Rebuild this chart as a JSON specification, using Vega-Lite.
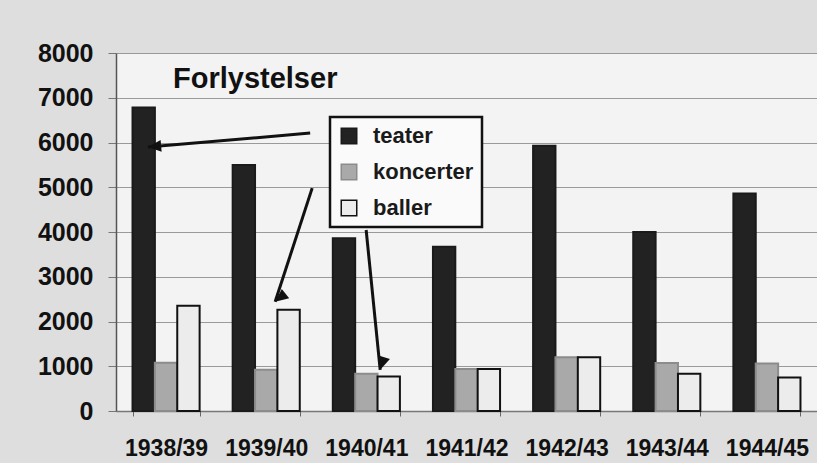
{
  "$schema": "https://vega.github.io/schema/vega-lite/v6.json",
  "width": 701,
  "height": 358,
  "autosize": {"type": "none"},
  "padding": {"left": 116, "top": 53, "right": 0, "bottom": 52},
  "background": "#dedede",
  "config": {
    "view": {"fill": "#f3f3f3", "stroke": null},
    "font": "Liberation Sans"
  },
  "title": {
    "text": "Forlystelser",
    "anchor": "start",
    "frame": "group",
    "orient": "top",
    "offset": 0,
    "baseline": "alphabetic",
    "dx": 57,
    "dy": 76,
    "font": "Liberation Sans",
    "fontSize": 29,
    "fontWeight": "bold",
    "color": "#111111"
  },
  "datasets": {
    "bars": [
      {"season": "1938/39", "series": "teater", "value": 6780},
      {"season": "1938/39", "series": "koncerter", "value": 1080},
      {"season": "1938/39", "series": "baller", "value": 2350},
      {"season": "1939/40", "series": "teater", "value": 5500},
      {"season": "1939/40", "series": "koncerter", "value": 920},
      {"season": "1939/40", "series": "baller", "value": 2260},
      {"season": "1940/41", "series": "teater", "value": 3860},
      {"season": "1940/41", "series": "koncerter", "value": 830},
      {"season": "1940/41", "series": "baller", "value": 770},
      {"season": "1941/42", "series": "teater", "value": 3670},
      {"season": "1941/42", "series": "koncerter", "value": 940},
      {"season": "1941/42", "series": "baller", "value": 940},
      {"season": "1942/43", "series": "teater", "value": 5930},
      {"season": "1942/43", "series": "koncerter", "value": 1200},
      {"season": "1942/43", "series": "baller", "value": 1200},
      {"season": "1943/44", "series": "teater", "value": 4000},
      {"season": "1943/44", "series": "koncerter", "value": 1070},
      {"season": "1943/44", "series": "baller", "value": 830},
      {"season": "1944/45", "series": "teater", "value": 4860},
      {"season": "1944/45", "series": "koncerter", "value": 1060},
      {"season": "1944/45", "series": "baller", "value": 750}
    ],
    "arrows": [
      {"arrow": "a1", "end": "start", "season": "1939/40", "pos": 1.155, "value": 6210},
      {"arrow": "a1", "end": "tip", "season": "1938/39", "pos": 0.23, "value": 5900},
      {"arrow": "a2", "end": "start", "season": "1939/40", "pos": 1.185, "value": 4980},
      {"arrow": "a2", "end": "tip", "season": "1939/40", "pos": 0.633, "value": 2440},
      {"arrow": "a3", "end": "start", "season": "1940/41", "pos": 0.497, "value": 4045},
      {"arrow": "a3", "end": "tip", "season": "1940/41", "pos": 0.706, "value": 920}
    ]
  },
  "resolve": {"scale": {"xOffset": "independent"}},
  "layer": [
    {
      "data": {"name": "bars"},
      "mark": {"type": "bar", "strokeWidth": 2},
      "encoding": {
        "x": {
          "field": "season",
          "type": "nominal",
          "sort": null,
          "scale": {"paddingInner": 0.33, "paddingOuter": 0.165},
          "axis": {
            "title": null,
            "labelAngle": 0,
            "labelFont": "Liberation Sans",
            "labelFontSize": 23,
            "labelFontWeight": "bold",
            "labelColor": "#111111",
            "labelPadding": 21,
            "tickBand": "extent",
            "tickSize": 5,
            "tickColor": "#666666",
            "domainColor": "#777777",
            "domainWidth": 1.5,
            "grid": false
          }
        },
        "xOffset": {
          "field": "series",
          "type": "nominal",
          "sort": ["teater", "koncerter", "baller"],
          "scale": {"paddingInner": 0, "paddingOuter": 0}
        },
        "y": {
          "field": "value",
          "type": "quantitative",
          "scale": {"domain": [0, 8000], "nice": false},
          "axis": {
            "title": null,
            "format": "d",
            "values": [0, 1000, 2000, 3000, 4000, 5000, 6000, 7000, 8000],
            "labelFont": "Liberation Sans",
            "labelFontSize": 25,
            "labelFontWeight": "bold",
            "labelColor": "#111111",
            "labelPadding": 15,
            "tickSize": 8,
            "tickColor": "#777777",
            "domainColor": "#555555",
            "domainWidth": 1.5,
            "gridColor": "#9a9a9a",
            "gridWidth": 1
          }
        },
        "fill": {
          "field": "series",
          "type": "nominal",
          "sort": ["teater", "koncerter", "baller"],
          "scale": {"domain": ["teater", "koncerter", "baller"], "range": ["#222222", "#a9a9a9", "#ececec"]},
          "legend": {
            "title": null,
            "orient": "none",
            "legendX": 214,
            "legendY": 64,
            "padding": 8,
            "fillColor": "#fafafa",
            "strokeColor": "#111111",
            "symbolType": "square",
            "symbolSize": 240,
            "symbolStrokeColor": "#333333",
            "symbolStrokeWidth": 1.5,
            "labelFont": "Liberation Sans",
            "labelFontSize": 22,
            "labelFontWeight": "bold",
            "labelColor": "#1a1a1a",
            "labelOffset": 13,
            "rowPadding": 14,
            "encode": {"legend": {"update": {"strokeWidth": {"value": 2.5}}}}
          }
        },
        "stroke": {
          "field": "series",
          "type": "nominal",
          "scale": {"domain": ["teater", "koncerter", "baller"], "range": ["#1a1a1a", "#8c8c8c", "#111111"]},
          "legend": null
        }
      }
    },
    {
      "data": {"name": "arrows"},
      "mark": {"type": "line", "color": "#111111", "strokeWidth": 3},
      "encoding": {
        "x": {"field": "season", "type": "nominal", "sort": null, "bandPosition": 0},
        "xOffset": {"field": "pos", "type": "quantitative", "scale": {"domain": [0, 1], "zero": false, "nice": false}},
        "y": {"field": "value", "type": "quantitative"},
        "detail": {"field": "arrow"}
      }
    },
    {
      "data": {"name": "arrows"},
      "transform": [{"filter": "datum.end === 'tip'"}],
      "mark": {"type": "point", "shape": "M0,0 L-0.45,1 L0.45,1 Z", "filled": true, "color": "#111111", "size": 700, "opacity": 1},
      "encoding": {
        "x": {"field": "season", "type": "nominal", "sort": null, "bandPosition": 0},
        "xOffset": {"field": "pos", "type": "quantitative", "scale": {"domain": [0, 1], "zero": false, "nice": false}},
        "y": {"field": "value", "type": "quantitative"},
        "angle": {"field": "arrow", "type": "nominal", "scale": {"domain": ["a1", "a2", "a3"], "range": [265, 198, 174]}, "legend": null}
      }
    }
  ]
}
